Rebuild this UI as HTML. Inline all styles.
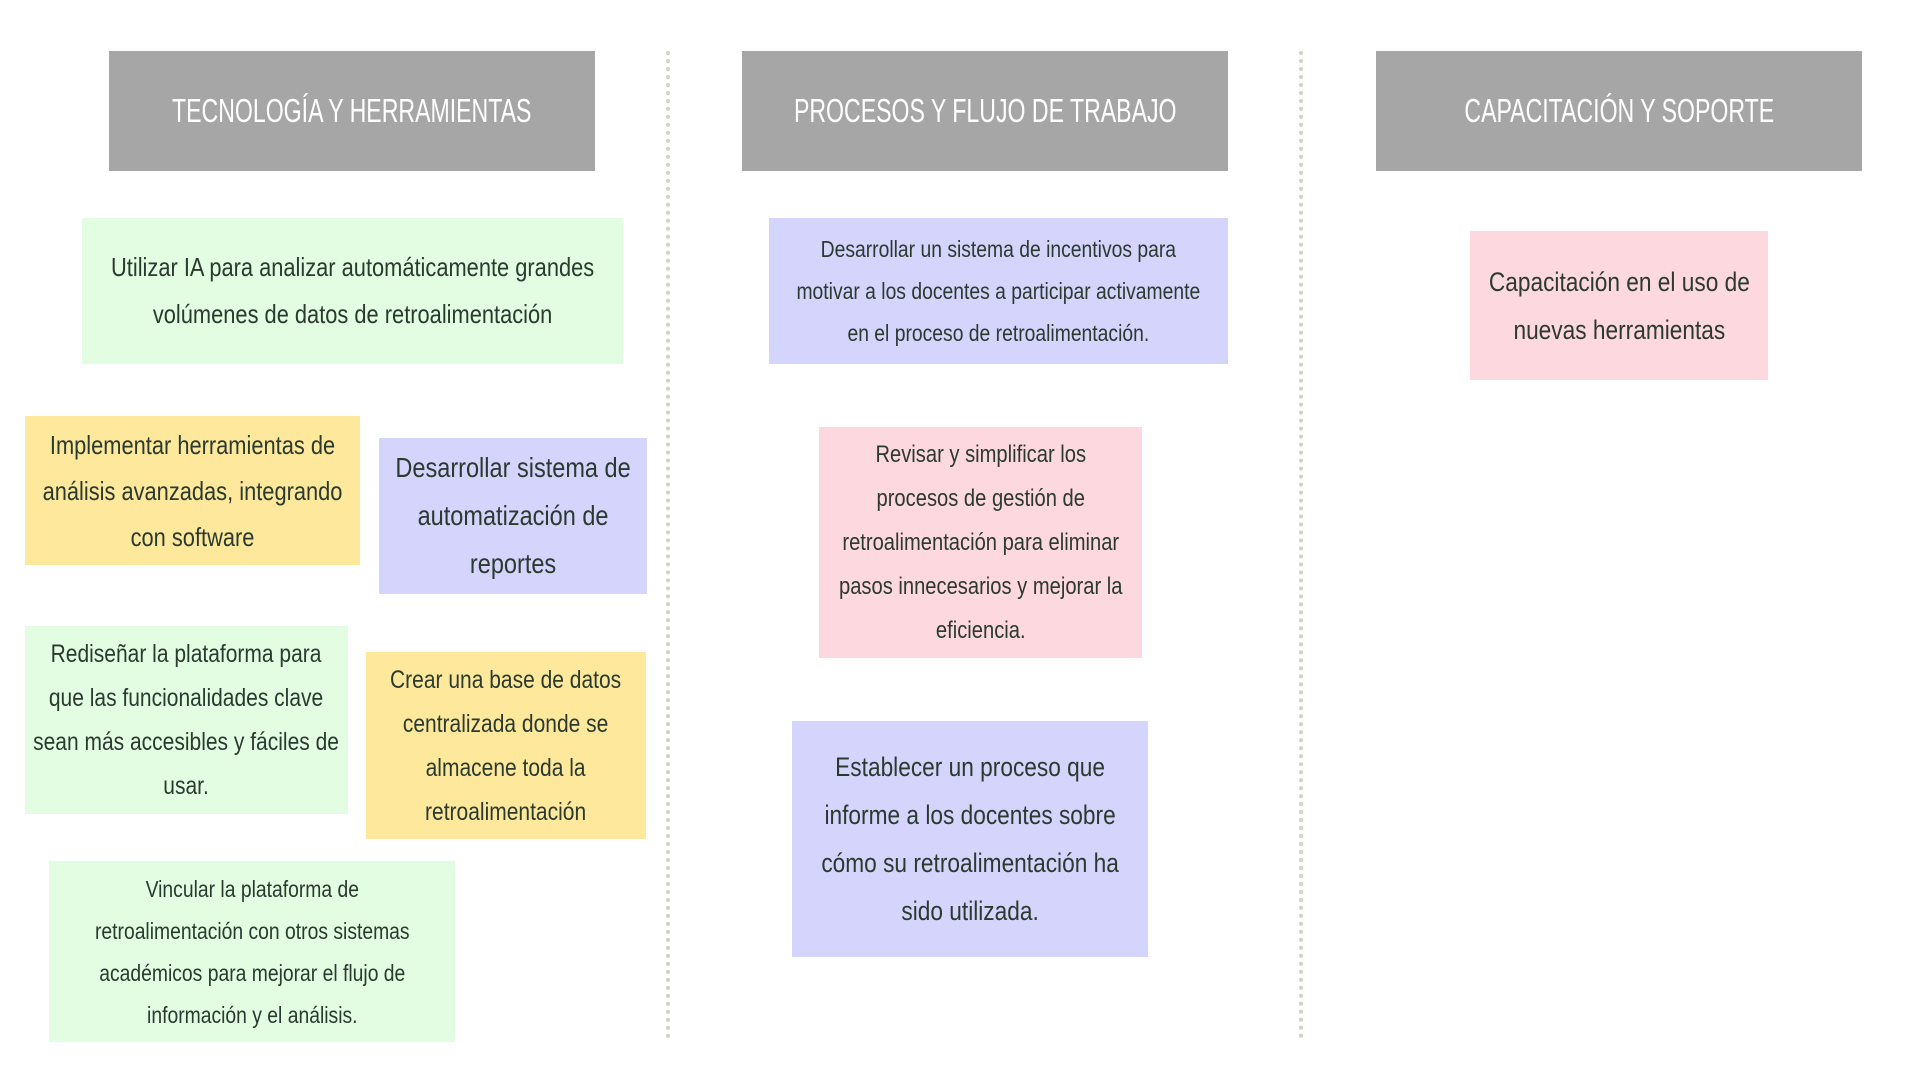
<!DOCTYPE html>
<html><head><meta charset="utf-8"><style>
html,body{margin:0;padding:0;width:1920px;height:1080px;background:#fff;overflow:hidden}
body{position:relative;font-family:"Liberation Sans",sans-serif;color:#2b3a2f}
.b{position:absolute;display:flex;align-items:center;justify-content:center;text-align:center;white-space:nowrap;overflow:visible}
.b span{display:inline-block;transform:scaleX(0.84)}
.h{background:#a6a6a6;color:#fff;font-size:33px}
.h span{transform:scaleX(0.7)}
.g{background:#e3fde3}.y{background:#fde89c}.p{background:#d4d4fc}.k{background:#fdd8df}
.v{position:absolute;top:51px;height:988px;width:0;border-left:4px dotted #d4d0c4}
</style></head><body>
<div class="v" style="left:666px"></div>
<div class="v" style="left:1299px"></div>
<div class="b h" style="left:109px;top:51px;width:486px;height:120px"><span>TECNOLOGÍA Y HERRAMIENTAS</span></div>
<div class="b h" style="left:742px;top:51px;width:486px;height:120px"><span>PROCESOS Y FLUJO DE TRABAJO</span></div>
<div class="b h" style="left:1376px;top:51px;width:486px;height:120px"><span>CAPACITACIÓN Y SOPORTE</span></div>

<div class="b g" style="left:82px;top:218px;width:541px;height:146px;font-size:26px;line-height:47px"><span>Utilizar IA para analizar automáticamente grandes<br>volúmenes de datos de retroalimentación</span></div>
<div class="b y" style="left:25px;top:416px;width:335px;height:149px;font-size:26px;line-height:46px"><span>Implementar herramientas de<br>análisis avanzadas, integrando<br>con software</span></div>
<div class="b p" style="left:379px;top:438px;width:268px;height:156px;font-size:28px;line-height:48px"><span>Desarrollar sistema de<br>automatización de<br>reportes</span></div>
<div class="b g" style="left:25px;top:626px;width:323px;height:188px;font-size:25px;line-height:44px"><span>Rediseñar la plataforma para<br>que las funcionalidades clave<br>sean más accesibles y fáciles de<br>usar.</span></div>
<div class="b y" style="left:366px;top:652px;width:280px;height:187px;font-size:25px;line-height:44px"><span>Crear una base de datos<br>centralizada donde se<br>almacene toda la<br>retroalimentación</span></div>
<div class="b g" style="left:49px;top:861px;width:406px;height:181px;font-size:23px;line-height:42px"><span>Vincular la plataforma de<br>retroalimentación con otros sistemas<br>académicos para mejorar el flujo de<br>información y el análisis.</span></div>

<div class="b p" style="left:769px;top:218px;width:459px;height:146px;font-size:23px;line-height:42px"><span>Desarrollar un sistema de incentivos para<br>motivar a los docentes a participar activamente<br>en el proceso de retroalimentación.</span></div>
<div class="b k" style="left:819px;top:427px;width:323px;height:231px;font-size:24px;line-height:44px"><span>Revisar y simplificar los<br>procesos de gestión de<br>retroalimentación para eliminar<br>pasos innecesarios y mejorar la<br>eficiencia.</span></div>
<div class="b p" style="left:792px;top:721px;width:356px;height:236px;font-size:27px;line-height:48px"><span>Establecer un proceso que<br>informe a los docentes sobre<br>cómo su retroalimentación ha<br>sido utilizada.</span></div>

<div class="b k" style="left:1470px;top:231px;width:298px;height:149px;font-size:27px;line-height:48px"><span>Capacitación en el uso de<br>nuevas herramientas</span></div>
</body></html>
